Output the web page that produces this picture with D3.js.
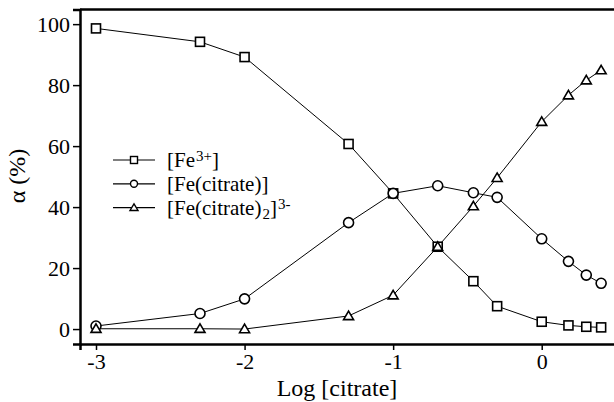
<!DOCTYPE html>
<html>
<head>
<meta charset="utf-8">
<script src="https://cdn.jsdelivr.net/npm/d3@7"></script>
<style>
  body { margin: 0; background: #fff; }
</style>
</head>
<body>
<div id="chart"></div>
<script>
// log [citrate] values
const logCitrate = [-3, -2.3, -2, -1.3, -1, -0.7, -0.46, -0.3, 0, 0.18, 0.3, 0.4];
// alpha (%) per species
const fe3 = [98.6, 94.2, 89.2, 60.7, 44.5, 27, 15.7, 7.5, 2.4, 1.2, 0.75, 0.55];
const feCitrate = [1.0, 5.1, 9.9, 34.9, 44.5, 47.0, 44.7, 43.2, 29.6, 22.2, 17.7, 15.0];
const feCitrate2 = [0.1, 0.1, 0, 4.3, 11.1, 27, 40.3, 49.6, 68, 76.7, 81.6, 84.9];
const xTicks = [-3, -2, -1, 0];
const yTicks = [0, 20, 40, 60, 80, 100];

const width = 614, height = 402;
const margin = { top: 9.5, right: 0, bottom: 58, left: 80 };
const serif = '"Liberation Serif", "Times New Roman", Times, serif';

const svg = d3.select("#chart").append("svg")
  .attr("width", width)
  .attr("height", height);

const x = d3.scaleLinear()
  .domain([-3.1077, 0.55])
  .range([margin.left, margin.left + 3.6577 * 148.57]);

const y = d3.scaleLinear()
  .domain([-4.9, 104.8])
  .range([height - margin.bottom, margin.top]);

// frame top line (plot box runs off the right edge)
svg.append("line")
  .attr("x1", margin.left).attr("x2", width + 10)
  .attr("y1", margin.top).attr("y2", margin.top)
  .attr("stroke", "#000").attr("stroke-width", 2.5);

// x axis
const xAxis = svg.append("g")
  .attr("transform", `translate(0, ${height - margin.bottom})`)
  .call(d3.axisBottom(x).tickValues(xTicks).tickSizeOuter(0).tickSize(6).tickPadding(3)
    .tickFormat(d => d));
xAxis.select(".domain").attr("stroke-width", 2.5);
xAxis.selectAll(".tick line").attr("stroke-width", 1.5);
xAxis.selectAll("text")
  .attr("fill", "#000")
  .attr("font-family", serif)
  .attr("font-size", 22);

// y axis
const yAxis = svg.append("g")
  .attr("transform", `translate(${margin.left}, 0)`)
  .call(d3.axisLeft(y).tickValues(yTicks).tickSizeOuter(0).tickSize(7).tickPadding(3));
yAxis.select(".domain").attr("stroke-width", 2.5);
yAxis.selectAll(".tick line").attr("stroke-width", 1.5);
yAxis.selectAll("text")
  .attr("fill", "#000")
  .attr("font-family", serif)
  .attr("font-size", 22);

// axis titles
svg.append("text")
  .attr("x", 337).attr("y", 396)
  .attr("text-anchor", "middle")
  .attr("font-family", serif)
  .attr("font-size", 24)
  .text("Log [citrate]");

svg.append("text")
  .attr("transform", "translate(25, 176) rotate(-90)")
  .attr("text-anchor", "middle")
  .attr("font-family", serif)
  .attr("font-size", 24)
  .text("α (%)");

// series
const series = [
  { name: "fe3", values: fe3, shape: "square" },
  { name: "feCitrate", values: feCitrate, shape: "circle" },
  { name: "feCitrate2", values: feCitrate2, shape: "triangle" }
];

const line = d3.line()
  .x(d => x(d[0]))
  .y(d => y(d[1]));

function drawMarker(g, shape, size) {
  if (shape === "square") {
    g.append("rect")
      .attr("x", -size / 2).attr("y", -size / 2)
      .attr("width", size).attr("height", size);
  } else if (shape === "circle") {
    g.append("circle").attr("r", size / 2);
  } else {
    const h = size * 0.9;
    g.append("path")
      .attr("d", `M0,${-h * 0.6} L${size / 2 + 0.5},${h * 0.45} L${-size / 2 - 0.5},${h * 0.45} Z`);
  }
  g.selectAll("*")
    .attr("fill", "#fff")
    .attr("stroke", "#000")
    .attr("stroke-width", 1.6);
}

series.forEach(s => {
  const pts = logCitrate.map((v, i) => [v, s.values[i]]);
  svg.append("path")
    .datum(pts)
    .attr("d", line)
    .attr("fill", "none")
    .attr("stroke", "#000")
    .attr("stroke-width", 1);
});

series.forEach(s => {
  logCitrate.forEach((v, i) => {
    const g = svg.append("g")
      .attr("transform", `translate(${x(v)}, ${y(s.values[i])})`);
    drawMarker(g, s.shape, s.shape === "circle" ? 10 : 9);
  });
});

// legend
const legend = svg.append("g").attr("transform", "translate(113, 160)");
const legendLabels = [
  [{ t: "[Fe" }, { t: "3+", sup: true }, { t: "]" }],
  [{ t: "[Fe(citrate)]" }],
  [{ t: "[Fe(citrate)" }, { t: "2", sub: true }, { t: "]" }, { t: "3-", sup: true }]
];

series.forEach((s, i) => {
  const row = legend.append("g").attr("transform", `translate(0, ${i * 23.8})`);
  row.append("line")
    .attr("x1", 0).attr("x2", 42)
    .attr("y1", 0).attr("y2", 0)
    .attr("stroke", "#000").attr("stroke-width", 1.2);
  const m = row.append("g").attr("transform", "translate(21, 0)");
  drawMarker(m, s.shape, 7);
  m.selectAll("*").attr("stroke-width", 1.4);

  const txt = row.append("text")
    .attr("x", 54).attr("y", 7)
    .attr("font-family", serif)
    .attr("font-size", 21);
  legendLabels[i].forEach(part => {
    const ts = txt.append("tspan").text(part.t);
    if (part.sup) ts.attr("font-size", 15).attr("baseline-shift", "40%").attr("dx", 1);
    if (part.sub) ts.attr("font-size", 15).attr("baseline-shift", "-25%").attr("dx", 1);
  });
});
</script>
</body>
</html>
